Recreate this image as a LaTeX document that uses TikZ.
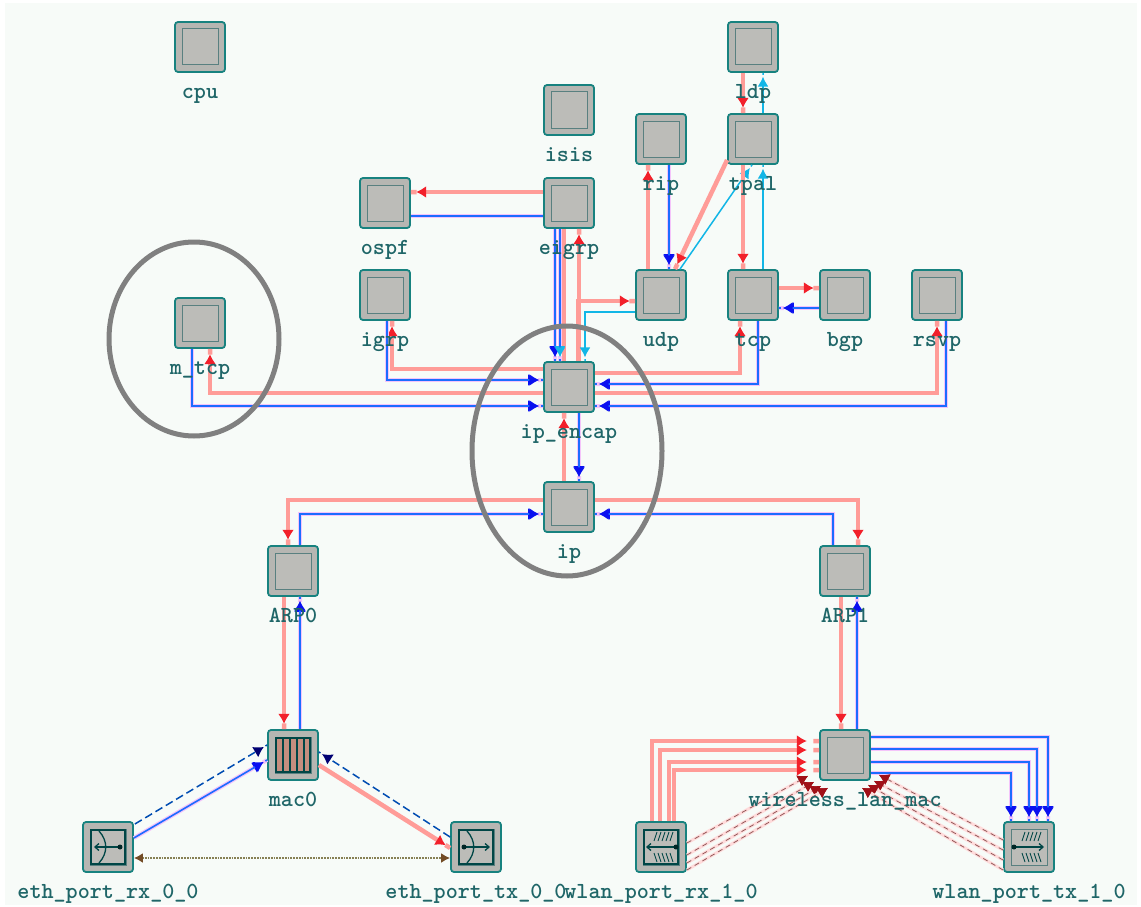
\documentclass[tikz,border=0pt]{standalone}
\usepackage{tikz}
\usetikzlibrary{arrows.meta,positioning,shapes.geometric}
\definecolor{wirered}{HTML}{FF9C98}
\definecolor{tipred}{HTML}{F2202A}
\definecolor{wireblue}{HTML}{1C6CFF}
\definecolor{tipblue}{HTML}{0A10F0}
\definecolor{wirecyan}{HTML}{12B6E6}
\definecolor{halo}{HTML}{F4C4FA}
\definecolor{boxteal}{HTML}{17827F}
\definecolor{boxgray}{HTML}{B6B6B2}
\definecolor{txtteal}{HTML}{1F6668}
\definecolor{stattip}{HTML}{A01018}
\definecolor{paper}{HTML}{F7FBF8}
\tikzset{
 redtip/.tip={Latex[color=tipred,length=10pt,width=12pt,sep=3pt] . Butt Cap},
 redfar/.tip={Latex[color=tipred,length=10pt,width=12pt,sep=10pt] . Butt Cap},
 bluetip/.tip={Latex[color=tipblue,length=10pt,width=12pt,sep=3pt] . Butt Cap},
 cyantip/.tip={Latex[color=wirecyan,length=10pt,width=11pt,sep=3pt] . Butt Cap},
 navytip/.tip={Latex[color=black!10!blue!50!black,length=10pt,width=12pt,sep=3pt] . Butt Cap},
 stattipa/.tip={Latex[color=stattip,length=10pt,width=12pt]},
 brntip/.tip={Latex[color=brown!60!black,length=9pt,width=10pt]},
 redwire/.style={draw=wirered,line width=4.5pt,-redtip},
 bluewire/.style={draw=wireblue,line width=1.6pt,preaction={draw=halo,line width=4pt},-bluetip},
 cyanwire/.style={draw=wirecyan,line width=1.5pt,-cyantip},
 statred/.style={draw=red!35!black!65,line width=0.8pt,dash pattern=on 5pt off 4pt,
   preaction={draw=red!14,line width=3pt,solid},-stattipa},
 statblue/.style={draw=teal!60!blue,line width=1.5pt,dash pattern=on 8pt off 4pt,-navytip},
 modbox/.style={draw=boxteal,line width=1.8pt,fill=boxgray,rounded corners=3pt,minimum size=50pt,inner sep=0pt,
   path picture={\draw[sharp corners,gray!70!teal,line width=1pt,fill=boxgray!92!white] ([shift={(-18pt,-18pt)}]path picture bounding box.center) rectangle ([shift={(18pt,18pt)}]path picture bounding box.center);}},
 modlab/.style={anchor=base,text=txtteal,font=\ttfamily\bfseries\fontsize{23}{23}\selectfont,inner sep=0pt},
 ring/.style={ellipse,draw=black!50,line width=5pt,inner sep=0pt},
 icon/.style={draw=black!45!teal,line width=1.3pt},
}
\begin{document}
\begin{tikzpicture}[x=1pt,y=-1pt]
 \useasboundingbox (0,0) rectangle (1141,907);
 \fill[paper] (5,3) rectangle (1137,905);
 % modules
 \foreach \n/\x/\y in {cpu/200/47,ldp/753/47,isis/569/110,rip/661/139,tpal/753/139,
   ospf/385/203,eigrp/569/203,igrp/385/295,udp/661/295,tcp/753/295,bgp/845/295,rsvp/937/295,
   mtcp/200/323,ipencap/569/387,ip/569/507,arpa/293/571,arpb/845/571,maca/293/755,wlanmac/845/755,
   ethrx/108/847,ethtx/476/847,wlanrx/661/847,wlantx/1029/847}
   {\node[modbox] (\n) at (\x,\y) {};}
 % top group
 \draw[redwire] ([yshift=11pt]eigrp.west) -- ([yshift=11pt]ospf.east);
 \draw[bluewire,-] ([yshift=-13pt]ospf.east) -- ([yshift=-13pt]eigrp.west);
 \draw[redwire,-] ([xshift=-5pt]ipencap.north) -- ([xshift=-5pt]eigrp.south);
 \draw[redwire] ([xshift=10pt]ipencap.north) -- ([xshift=10pt]eigrp.south);
 \draw[bluewire] ([xshift=-14pt]eigrp.south) -- ([xshift=-14pt]ipencap.north);
 \draw[bluewire,-cyantip] ([xshift=-9pt]eigrp.south) -- ([xshift=-9pt]ipencap.north);
 \draw[redwire] ([xshift=9pt]ipencap.north) |- ([yshift=-6pt]udp.west);
 \draw[cyanwire] ([yshift=-17pt]udp.west) -| ([xshift=16pt]ipencap.north);
 \draw[redwire] ([xshift=-13pt]udp.north) -- ([xshift=-13pt]rip.south);
 \draw[bluewire] ([xshift=8pt]rip.south) -- ([xshift=8pt]udp.north);
 \draw[redwire] ([yshift=-21pt]tpal.west) -- ([xshift=14pt]udp.north);
 \draw[cyanwire] ([xshift=19pt]udp.north) -- ([xshift=-1pt]tpal.south);
 \draw[redwire] ([xshift=-10pt]tpal.south) -- ([xshift=-10pt]tcp.north);
 \draw[cyanwire] ([xshift=10pt]tcp.north) -- ([xshift=10pt]tpal.south);
 \draw[redwire] ([xshift=-10pt]ldp.south) -- ([xshift=-10pt]tpal.north);
 \draw[cyanwire] ([xshift=10pt]tpal.north) -- ([xshift=10pt]ldp.south);
 \draw[redwire] ([yshift=7pt]tcp.east) -- ([yshift=7pt]bgp.west);
 \draw[bluewire] ([yshift=-13pt]bgp.west) -- ([yshift=-13pt]tcp.east);
 % into ip_encap
 \draw[redwire] ([yshift=18pt]ipencap.west) -| ([xshift=7pt]igrp.south);
 \draw[bluewire] ([xshift=2pt]igrp.south) |- ([yshift=7pt]ipencap.west);
 \draw[redwire] ([yshift=-6pt]ipencap.west) -| ([xshift=10pt]mtcp.south);
 \draw[bluewire] ([xshift=-8pt]mtcp.south) |- ([yshift=-19pt]ipencap.west);
 \draw[redwire] ([yshift=14pt]ipencap.east) -| ([xshift=-13pt]tcp.south);
 \draw[bluewire] ([xshift=5pt]tcp.south) |- ([yshift=3pt]ipencap.east);
 \draw[redwire] ([yshift=-6pt]ipencap.east) -| (rsvp.south);
 \draw[bluewire] ([xshift=9pt]rsvp.south) |- ([yshift=-19pt]ipencap.east);
 \draw[redwire] ([xshift=-5pt]ip.north) -- ([xshift=-5pt]ipencap.south);
 \draw[bluewire] ([xshift=10pt]ipencap.south) -- ([xshift=10pt]ip.north);
 % down to the arps
 \draw[redwire] ([yshift=7pt]ip.west) -| ([xshift=-5pt]arpa.north);
 \draw[bluewire] ([xshift=7pt]arpa.north) |- ([yshift=-7pt]ip.west);
 \draw[redwire] ([yshift=7pt]ip.east) -| ([xshift=13pt]arpb.north);
 \draw[bluewire] ([xshift=-12pt]arpb.north) |- ([yshift=-7pt]ip.east);
 \draw[redwire] ([xshift=-9pt]arpa.south) -- ([xshift=-9pt]maca.north);
 \draw[bluewire] ([xshift=7pt]maca.north) -- ([xshift=7pt]arpa.south);
 \draw[redwire] ([xshift=-4pt]arpb.south) -- ([xshift=-4pt]wlanmac.north);
 \draw[bluewire] ([xshift=12pt]wlanmac.north) -- ([xshift=12pt]arpb.south);
 % eth ports
 \draw[statblue] ([shift={(1pt,23pt)}]ethrx.east) -- ([yshift=10pt]maca.west);
 \draw[bluewire] ([yshift=9pt]ethrx.east) -- ([yshift=-5pt]maca.west);
 \draw[redwire] ([yshift=-10pt]maca.east) -- ([yshift=-1pt]ethtx.west);
 \draw[statblue] ([yshift=10pt]ethtx.west) -- ([yshift=3pt]maca.east);
 \draw[densely dotted,draw=brown!70!teal,line width=1.8pt,{brntip}-{brntip}] ([yshift=-11pt]ethrx.east) -- ([yshift=-11pt]ethtx.west);
 % wireless
 \foreach \dx/\dy in {-9/14,-1/5,8/-7,13/-15}
   {\draw[redwire,-redfar] ([xshift=\dx pt]wlanrx.north) |- ([yshift=\dy pt]wlanmac.west);}
 \foreach \dy/\dx in {18/19,6/8,-7/0,-18/-18}
   {\draw[bluewire] ([yshift=\dy pt]wlanmac.east) -| ([xshift=\dx pt]wlantx.north);}
 \foreach \a/\b/\c in {4/-37/5,-8/-31/-1,-16/-24/-5,-23/-17/-7}
   {\draw[statred] ([yshift=\a pt]wlanrx.east) -- ([shift={(\b pt,\c pt)}]wlanmac.south);}
 \foreach \a/\b/\c in {7/34/6,-3/29/0,-13/23/-4,-23/17/-7}
   {\draw[statred] ([yshift=\a pt]wlantx.west) -- ([shift={(\b pt,\c pt)}]wlanmac.south);}
 % port and queue icons
 \draw[icon,fill=boxgray!80!red!80!brown] ([shift={(-17pt,-17pt)}]maca.center) rectangle ([shift={(17pt,17pt)}]maca.center);
 \foreach \k in {-10,-3,4,11}
   {\draw[icon,line width=2pt] ([shift={(\k pt,-17pt)}]maca.center) -- ([shift={(\k pt,17pt)}]maca.center);}
 \foreach \n/\tip/\dot/\bend in {ethrx/-14/12/-9,ethtx/14/-12/-9}
   {\draw[icon,line width=2pt] ([shift={(-17pt,-17pt)}]\n.center) rectangle ([shift={(17pt,17pt)}]\n.center);
    \draw[icon,-{Straight Barb[length=4pt,width=7pt]}] ([xshift=\dot pt]\n.center) -- ([xshift=\tip pt]\n.center);
    \fill[black!70!teal] ([xshift=\dot pt]\n.center) circle (2.5pt);
    \draw[icon] ([shift={(\bend pt,-16pt)}]\n.center) .. controls ([shift={(0pt,-6pt)}]\n.center) and ([shift={(0pt,6pt)}]\n.center) .. ([shift={(\bend pt,16pt)}]\n.center);}
 \draw[icon,line width=2pt] ([shift={(-17pt,-17pt)}]wlanrx.center) rectangle ([shift={(17pt,17pt)}]wlanrx.center);
 \foreach \n/\tip/\dot in {wlanrx/-15/15,wlantx/15/-15}
   {\draw[icon,-{Straight Barb[length=4pt,width=7pt]}] ([xshift=\dot pt]\n.center) -- ([xshift=\tip pt]\n.center);
    \fill[black!70!teal] ([xshift=\dot pt]\n.center) circle (2.5pt);
    \foreach \k in {-4,0,4,8,12}
      {\draw[icon,line width=0.9pt] ([shift={(\k pt,-15pt)}]\n.center) -- ([shift={(\k pt-3pt,-6pt)}]\n.center);
       \draw[icon,line width=0.9pt] ([shift={(\k pt,15pt)}]\n.center) -- ([shift={(\k pt-3pt,6pt)}]\n.center);}}
 % labels
 \foreach \n/\t in {cpu/cpu,ldp/ldp,isis/isis,rip/rip,tpal/tpal,ospf/ospf,eigrp/eigrp,igrp/igrp,udp/udp,
   tcp/tcp,bgp/bgp,rsvp/rsvp,mtcp/m\_tcp,ipencap/ip\_encap,ip/ip,arpa/ARP0,arpb/ARP1,maca/mac0,
   wlanmac/wireless\_lan\_mac,ethrx/eth\_port\_rx\_0\_0,ethtx/eth\_port\_tx\_0\_0,
   wlanrx/wlan\_port\_rx\_1\_0,wlantx/wlan\_port\_tx\_1\_0}
   {\node[modlab] (\n-lab) at ([yshift=-26pt]\n.south) {\t};}
 % highlight rings
 \node[ring,minimum width=170pt,minimum height=194pt] (mtcp-ring) at (194,339) {};
 \node[ring,minimum width=190pt,minimum height=250pt] (ip-ring) at (567,451) {};
\end{tikzpicture}
\end{document}
